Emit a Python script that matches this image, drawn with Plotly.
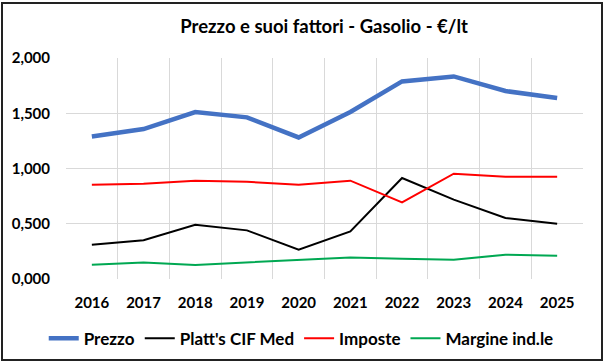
import plotly.graph_objects as go

years = [2016, 2017, 2018, 2019, 2020, 2021, 2022, 2023, 2024, 2025]
prezzo = [1.290, 1.357, 1.511, 1.463, 1.281, 1.512, 1.788, 1.833, 1.701, 1.638]
platts = [0.310, 0.350, 0.491, 0.440, 0.265, 0.431, 0.914, 0.718, 0.552, 0.500]
imposte = [0.853, 0.862, 0.890, 0.880, 0.853, 0.890, 0.693, 0.953, 0.926, 0.926]
margine = [0.129, 0.150, 0.127, 0.150, 0.175, 0.195, 0.184, 0.175, 0.220, 0.211]
y_ticks = [0, 0.5, 1.0, 1.5, 2.0]

FONT = "Lato"

fig = go.Figure()
fig.add_trace(go.Scatter(x=years, y=prezzo, name="Prezzo", mode="lines",
                         line=dict(color="#4472C4", width=4.5)))
fig.add_trace(go.Scatter(x=years, y=platts, name="Platt's CIF Med", mode="lines",
                         line=dict(color="#000000", width=2)))
fig.add_trace(go.Scatter(x=years, y=imposte, name="Imposte", mode="lines",
                         line=dict(color="#FF0000", width=2)))
fig.add_trace(go.Scatter(x=years, y=margine, name="Margine ind.le", mode="lines",
                         line=dict(color="#00A852", width=2)))

fig.update_layout(
    width=605, height=362,
    margin=dict(l=66, r=22, t=58, b=83, autoexpand=False),
    paper_bgcolor="white", plot_bgcolor="white",
    separators=",.",
    title=dict(text="Prezzo e suoi fattori - Gasolio - €/lt",
               x=(302 - 0) / 605, xanchor="center", y=1 - 27 / 362, yanchor="middle",
               xref="paper",
               font=dict(family=FONT, size=18.5, color="#000000", weight="bold")),
    font=dict(family=FONT, color="#000000"),
    showlegend=True,
    legend=dict(orientation="h", x=0.455, xanchor="center", y=-0.27, yanchor="middle",
                font=dict(family=FONT, size=17, color="#000000", weight="bold"),
                itemwidth=30, tracegroupgap=0, bgcolor="rgba(0,0,0,0)"),
    xaxis=dict(range=[2015.5, 2025.5], tickvals=years, ticktext=[str(y) for y in years],
               showgrid=False, zeroline=False, showline=False, automargin=False,
               ticks="outside", ticklen=10, tickcolor="rgba(0,0,0,0)",
               tickfont=dict(family=FONT, size=15, color="#000000", weight="bold"),
               minor=dict(tickvals=[y - 0.5 for y in years] + [2025.5], showgrid=True,
                          gridcolor="#D9D9D9", gridwidth=1, ticks="")),
    yaxis=dict(range=[0, 2.0], tickvals=y_ticks, tickformat=".3f",
               showgrid=True, gridcolor="#D9D9D9", gridwidth=1,
               zeroline=False, showline=False, automargin=False,
               ticks="outside", ticklen=12, tickcolor="rgba(0,0,0,0)",
               tickfont=dict(family=FONT, size=15, color="#000000", weight="bold")),
)

fig.add_shape(type="rect", xref="paper", yref="paper",
              x0=(2 - 66) / 517, x1=(602 - 66) / 517,
              y0=(279 - 360) / 221, y1=(279 - 3) / 221,
              line=dict(color="#222222", width=2), fillcolor="rgba(0,0,0,0)", layer="below")

fig.write_html("out.html", config={"displayModeBar": False},
               post_script="document.body.style.margin='0';document.body.style.overflow='hidden';")
